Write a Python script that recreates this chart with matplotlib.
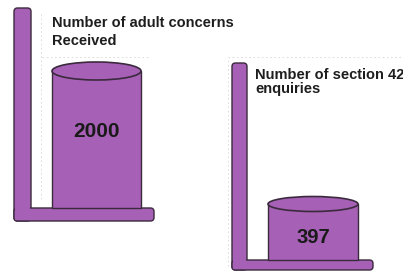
import matplotlib
matplotlib.use("Agg")
import matplotlib.pyplot as plt
from matplotlib.patches import Ellipse, FancyBboxPatch, Rectangle

# ---- data ----
labels = [["Number of adult concerns", "Received"], ["Number of section 42", "enquiries"]]
values = [2000, 397]
value_text = ["2000", "397"]

# ---- layout (pixel space, y up) ----
W, H = 403, 274
FILL = "#a660b5"
EDGE = "#3b2a3d"
panels = [
    dict(px=(14, 31), top=266, foot_x=(14, 154), foot_y=(53, 66), cyl_x=(52, 141),
         scale=137.0 / 2000, ell_h=18, txt=(52, 247, 229), vsize=15, vfrac=0.56),
    dict(px=(232, 247), top=211, foot_x=(232, 373), foot_y=(4, 14), cyl_x=(268, 358),
         scale=56.0 / 397, ell_h=15, txt=(255, 195, 181), vsize=14.5, vfrac=0.41),
]

fig = plt.figure(figsize=(W / 100, H / 100), dpi=100)
ax = fig.add_axes([0, 0, 1, 1])
ax.set_xlim(0, W)
ax.set_ylim(0, H)
ax.axis("off")

# faint selection-handle dotted lines seen in the original
guide = dict(color="#d8d8d8", lw=0.6, ls=(0, (2, 3)), zorder=1)
ax.plot([41, 41], [75, 262], **guide)
ax.plot([42, 150], [217, 217], **guide)
ax.plot([228, 403], [217, 217], **guide)
ax.plot([228, 228], [8, 215], **guide)

r = 3.5
for p, lab, v, vt in zip(panels, labels, values, value_text):
    x0, x1 = p["px"]
    fy0, fy1 = p["foot_y"]
    fx0, fx1 = p["foot_x"]
    # vertical bar
    ax.add_patch(FancyBboxPatch((x0 + r, fy0 + r), (x1 - x0) - 2 * r, (p["top"] - fy0) - 2 * r,
                                boxstyle=f"round,pad={r}", fc=FILL, ec=EDGE, lw=1.0, zorder=2))
    # foot
    ax.add_patch(FancyBboxPatch((fx0 + r, fy0 + r), (fx1 - fx0) - 2 * r, (fy1 - fy0) - 2 * r,
                                boxstyle=f"round,pad={r}", fc=FILL, ec=EDGE, lw=1.0, zorder=2))
    # hide inner seam
    ax.add_patch(Rectangle((x0 + 1.2, fy0 + 1.2), (x1 - x0) - 2.4, (fy1 - fy0) + 2,
                           fc=FILL, ec="none", zorder=3))

    # cylinder
    cx0, cx1 = p["cyl_x"]
    cw = cx1 - cx0
    cc = (cx0 + cx1) / 2
    h = v * p["scale"]
    ax.bar([cc], [h], width=cw, bottom=fy1, color=FILL, edgecolor=EDGE, lw=1.0, zorder=4)
    ax.add_patch(Ellipse((cc, fy1 + h), cw, p["ell_h"], fc=FILL, ec=EDGE, lw=1.2, zorder=5))
    ax.text(cc, fy1 + h * p["vfrac"], vt, ha="center", va="center", fontsize=p["vsize"],
            fontweight="bold", family="Liberation Sans", color="#1a1a1a", zorder=6)

    tx, ty1, ty2 = p["txt"]
    ax.text(tx, ty1, lab[0], ha="left", va="baseline", fontsize=10.5, fontweight="bold",
            family="Liberation Sans", color="#1e1e1e")
    ax.text(tx, ty2, lab[1], ha="left", va="baseline", fontsize=10.5, fontweight="bold",
            family="Liberation Sans", color="#1e1e1e")

fig.savefig("out.png", dpi=100, facecolor="white")
